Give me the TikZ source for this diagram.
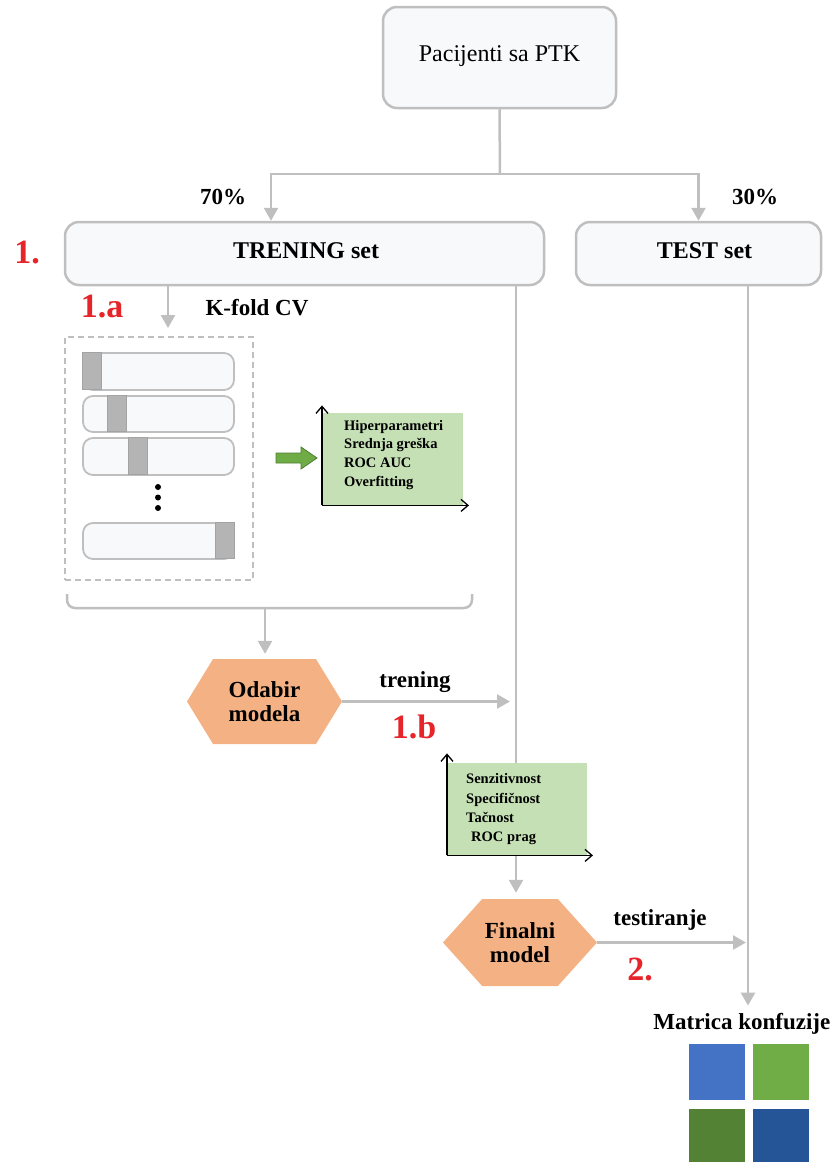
\documentclass[tikz,border=0pt]{standalone}
\usepackage{fontspec}
\setmainfont{Liberation Serif}
\usetikzlibrary{arrows.meta,shapes.symbols,calc}
\definecolor{lgray}{HTML}{BFBFBF}
\definecolor{boxfill}{HTML}{F8F9FB}
\definecolor{gboxc}{HTML}{C5E0B4}
\definecolor{orangehex}{HTML}{F4B183}
\definecolor{redc}{HTML}{E5252A}
\definecolor{segfill}{HTML}{B4B4B4}
\definecolor{segdraw}{HTML}{A3A3A3}
\definecolor{garrow}{HTML}{6FAC46}
\definecolor{garrowd}{HTML}{4E7D30}
\definecolor{qa}{HTML}{4472C4}
\definecolor{qb}{HTML}{70AD47}
\definecolor{qc}{HTML}{548235}
\definecolor{qd}{HTML}{255597}
\begin{document}
\begin{tikzpicture}[x=1pt,y=-1pt,
  line/.style={draw=lgray,line width=2.5pt},
  arr/.style={line,-{Triangle[length=13pt,width=14pt]}},
  rbox/.style={draw=lgray,line width=2.5pt,fill=boxfill,rounded corners=14pt,inner sep=0pt},
  lab/.style={font=\fontsize{23}{26}\selectfont\bfseries,inner sep=0pt,anchor=base},
  biglab/.style={font=\fontsize{24}{26}\selectfont\bfseries,inner sep=0pt,anchor=base},
  redlab/.style={font=\fontsize{34}{36}\selectfont\bfseries,text=redc,inner sep=0pt,anchor=base},
  small/.style={font=\fontsize{14.5}{19}\selectfont\bfseries,inner sep=0pt,anchor=base west},
  hex/.style={signal,signal to=west and east,fill=orangehex,inner sep=0pt,align=center,
    font=\fontsize{23}{24}\selectfont\bfseries},
  fold/.style={draw=lgray,line width=1.8pt,fill=boxfill,rounded corners=10pt,inner sep=0pt},
  seg/.style={draw=segdraw,line width=1pt,fill=segfill},
  axis/.style={draw=black,line width=1.3pt,-{Straight Barb[length=7pt,width=12pt]}},
  gbox/.style={fill=gboxc,draw=none,inner sep=0pt,anchor=north west},
  sq/.style={minimum size=56pt,inner sep=0pt,anchor=north west},
]
\useasboundingbox (0,0) rectangle (832,1162);

% top box
\node[rbox,minimum width=233,minimum height=101] (pac) at (499.5,57.5) {};
\node[font=\fontsize{24}{26}\selectfont,inner sep=0pt,anchor=base] (pactext) at (499.5,61) {Pacijenti sa PTK};

% sets
\node[rbox,minimum width=479,minimum height=63] (trening) at (304.5,253.5) {};
\node[biglab] (treningtext) at (306,258) {TRENING set};
\node[rbox,minimum width=245,minimum height=63] (test) at (698.5,253.5) {};
\node[biglab] (testtext) at (704.5,258) {TEST set};

\coordinate (split) at (500,174);
\draw[line] (pac.south) -- (split);
\draw[arr] (split) -| ([xshift=-33.5]trening.north);
\draw[arr] (split) -| (test.north);
\node[lab] (p70) at (223,204) {70\%};
\node[lab] (p30) at (755,204) {30\%};
\node[redlab] (r1) at (27,263) {1.};

% k-fold
\coordinate (kf) at (168,328);
\draw[arr] ([xshift=-136.5]trening.south) -- (kf);
\node[redlab] (r1a) at (102,317) {1.a};
\node[lab] (kfold) at (257,315) {K-fold CV};

\node[draw=lgray,dash pattern=on 6pt off 4pt,line width=1.3pt,minimum width=188,minimum height=243,inner sep=0pt] (cv) at (159,458.5) {};

\node[fold,minimum width=151,minimum height=37] (f1) at (158.5,371.5) {};
\draw[seg] (f1.north west) rectangle ++(19,37);
\node[fold,minimum width=151,minimum height=36] (f2) at (158.5,414) {};
\draw[seg] ([xshift=25]f2.north west) rectangle ++(19,36);
\node[fold,minimum width=151,minimum height=37] (f3) at (158.5,456.5) {};
\draw[seg] ([xshift=46]f3.north west) rectangle ++(19,37);
\fill (158,487) circle (3pt);
\fill (158,497.5) circle (3pt);
\fill (158,508) circle (3pt);
\node[fold,minimum width=151,minimum height=36] (f4) at (158.5,541) {};
\draw[seg] ([xshift=-19]f4.north east) rectangle ++(19,36);

% green arrow
\filldraw[fill=garrow,draw=garrowd,line width=0.8pt] (276,453) -- (301,453) -- (301,447) -- (317,458) -- (301,469) -- (301,463) -- (276,463) -- cycle;

% green box 1
\node[gbox,minimum width=141,minimum height=92] (g1) at (322,413) {};
\draw[axis] (g1.south west) -- ++(0,-100);
\draw[axis] (g1.south west) -- ++(147,0);
\node[small] (h1) at (344,430) {Hiperparametri};
\node[small] (h2) at (344,448.5) {Srednja greška};
\node[small] (h3) at (344,467) {ROC AUC};
\node[small] (h4) at (344,486) {Overfitting};

% bracket
\draw[line,rounded corners=8pt] (67,594) -- (67,608) -- (472,608) -- (472,594);
\coordinate (brk) at (265,608);

% odabir
\node[hex,signal pointer angle=117,minimum width=155,minimum height=85] (odabir) at (264.5,701.5) {Odabir\\modela};
\draw[arr,shorten >=5pt] (brk) -- (brk |- odabir.north);

% vertical training line
\coordinate (vx) at ([xshift=211.5]trening.south);
\node[hex,signal pointer angle=96,minimum width=154,minimum height=87] (final) at (520,942.5) {Finalni\\model};
\draw[arr,shorten >=6pt] (vx) -- (vx |- final.north);
\draw[arr,shorten >=6pt] (odabir.east) -- (odabir.east -| vx);
\node[lab] (trlab) at (415,687) {trening};
\node[redlab] (r1b) at (414,738) {1.b};

% green box 2
\node[gbox,minimum width=140,minimum height=92] (g2) at (447,763) {};
\draw[axis] (g2.south west) -- ++(0,-102);
\draw[axis] (g2.south west) -- ++(146,0);
\node[small] (s1) at (466,783) {Senzitivnost};
\node[small] (s2) at (466,803) {Specifičnost};
\node[small] (s3) at (466,822) {Tačnost};
\node[small] (s4) at (471,841) {ROC prag};

% test line
\node[lab,anchor=base east] (matrica) at (830.5,1029) {Matrica konfuzije};
\coordinate (tx) at ([xshift=49.5]test.south);
\draw[arr,shorten >=7pt] (tx) -- (tx |- matrica.north);
\draw[arr,shorten >=2pt] (final.east) -- (final.east -| tx);
\node[lab] (testlab) at (660,925) {testiranje};
\node[redlab] (r2) at (640,980) {2.};

% confusion matrix
\node[sq,fill=qa] (q11) at (689,1044) {};
\node[sq,fill=qb] (q12) at (753,1044) {};
\node[sq,fill=qc] (q21) at (689,1109) {};
\node[sq,fill=qd] (q22) at (753,1109) {};
\end{tikzpicture}
\end{document}
